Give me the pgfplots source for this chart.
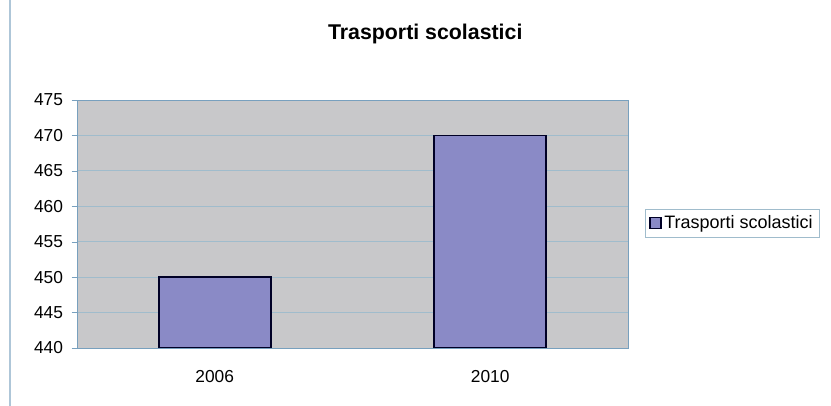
\documentclass[border=0pt]{standalone}
\usepackage{fontspec}
\setmainfont{Liberation Sans}
\usepackage{pgfplots}
\pgfplotsset{compat=1.18}

\definecolor{plotbg}{RGB}{200,200,202}
\definecolor{barfill}{RGB}{138,138,198}
\definecolor{gridc}{RGB}{160,188,204}
\definecolor{framec}{RGB}{120,160,190}

\begin{document}
\begin{tikzpicture}[x=0.75pt,y=0.75pt]
\path[use as bounding box] (-77,-58) rectangle (754,348);
\draw[framec!60, line width=0.8pt] (-67,-58) -- (-67,348);
\begin{axis}[
    at={(0,0)}, anchor=south west,
    scale only axis,
    width=413.25pt, height=186pt,
    xmin=-0.5, xmax=1.5,
    ymin=440, ymax=475,
    ytick={440,445,...,475},
    xtick={0,1},
    xticklabels={2006,2010},
    ytick pos=left,
    ybar, bar width=84pt,
    axis background/.style={fill=plotbg},
    ymajorgrids,
    grid style={gridc, line width=0.6pt},
    axis line style={framec, line width=0.7pt},
    major tick length=4pt,
    xtick style={draw=none},
    ytick style={framec},
    tick align=outside,
    tick label style={font=\fontsize{13}{15}\selectfont},
    xticklabel style={yshift=-9pt},
    yticklabel style={xshift=-3pt},
    /pgf/number format/assume math mode=true,
    /pgf/number format/1000 sep={},
    title={\textbf{Trasporti scolastici}},
    title style={font=\fontsize{16}{19}\selectfont, at={(0.632,1.235)}, anchor=center},
    legend style={at={(1.031,0.504)}, anchor=west, draw=gridc, fill=white,
        font=\fontsize{13.5}{16}\selectfont, inner sep=3pt},
    legend image code/.code={\draw[#1] (0cm,-4pt) rectangle (8pt,4pt);},
]
\addplot[fill=barfill, draw=black!85!blue, line width=1.2pt] coordinates {(0,450) (1,470)};
\legend{Trasporti scolastici}
\end{axis}
\end{tikzpicture}
\end{document}
